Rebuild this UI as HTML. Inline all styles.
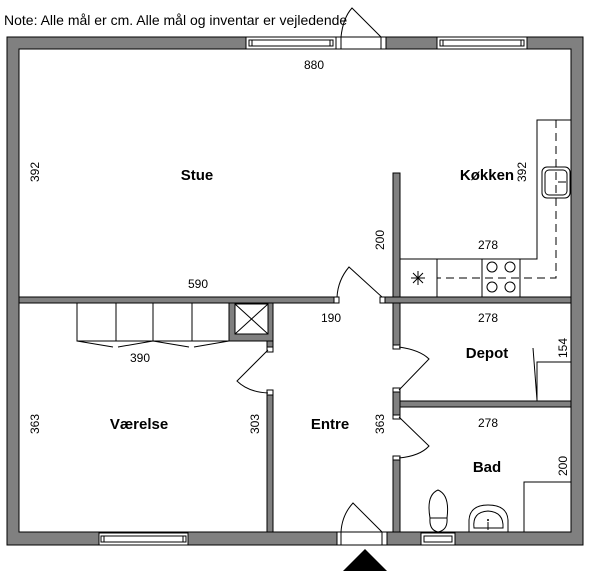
<!DOCTYPE html>
<html><head><meta charset="utf-8"><style>
html,body{margin:0;padding:0;background:#fff}
svg{display:block}
text{font-family:"Liberation Sans",sans-serif;fill:#000}
.b{font-weight:bold;font-size:15px}
.n{font-size:12px}
</style></head><body>
<svg width="600" height="582" viewBox="0 0 600 582" xmlns="http://www.w3.org/2000/svg">
<text x="4" y="25" style="font-size:14px">Note: Alle mål er cm. Alle mål og inventar er vejledende</text>
<g fill="#808080" stroke="#000" stroke-width="1">
<!-- outer walls -->
<path d="M7,37 H583 V545 H7 Z M19,49 V532 H571 V49 Z" fill-rule="evenodd"/>
<!-- horizontal wall stue -->
<rect x="19" y="297" width="318" height="6"/>
<rect x="382" y="297" width="189" height="6"/>
<!-- kitchen partition -->
<rect x="393" y="173" width="7" height="124"/>
<!-- right vertical wall -->
<rect x="393" y="303" width="7" height="44"/>
<rect x="393" y="390" width="7" height="27"/>
<rect x="393" y="458" width="7" height="74"/>
<!-- depot/bad wall -->
<rect x="400" y="401" width="171" height="6"/>
<!-- værelse wall -->
<rect x="229" y="303" width="44" height="38"/>
<rect x="267" y="341" width="6" height="9"/>
<rect x="267" y="393" width="6" height="139"/>
</g>
<g fill="#fff" stroke="#000" stroke-width="1">
<rect x="235" y="304" width="33" height="30"/>
<!-- top windows -->
<rect x="246" y="37" width="90" height="12" stroke="none"/>
<rect x="246" y="37" width="90" height="12"/>
<rect x="249" y="40" width="84" height="6"/>
<line x1="252" y1="40" x2="252" y2="46"/><line x1="330" y1="40" x2="330" y2="46"/>
<rect x="437" y="37" width="90" height="12"/>
<rect x="440" y="40" width="84" height="6"/>
<line x1="443" y1="40" x2="443" y2="46"/><line x1="521" y1="40" x2="521" y2="46"/>
<!-- top door -->
<rect x="336" y="37" width="50" height="12"/>
<line x1="341" y1="37" x2="341" y2="49"/><line x1="381" y1="37" x2="381" y2="49"/>
<!-- bottom windows -->
<rect x="99" y="533" width="89" height="12"/>
<rect x="101" y="536" width="85" height="6"/>
<line x1="104" y1="536" x2="104" y2="542"/><line x1="183" y1="536" x2="183" y2="542"/>
<rect x="421" y="533" width="34" height="12"/>
<rect x="424" y="536" width="28" height="6"/>
<!-- bottom door -->
<rect x="337" y="532" width="50" height="13"/>
<line x1="341" y1="532" x2="341" y2="545"/><line x1="382" y1="532" x2="382" y2="545"/>
<!-- jamb stubs -->
<rect x="334" y="297" width="5" height="6"/><rect x="380" y="297" width="5" height="6"/>
<rect x="267" y="347" width="6" height="5"/><rect x="267" y="390" width="6" height="5"/>
<rect x="393" y="345" width="7" height="4"/><rect x="393" y="388" width="7" height="4"/>
<rect x="393" y="415" width="7" height="4"/><rect x="393" y="456" width="7" height="4"/>
</g>
<g fill="none" stroke="#000" stroke-width="1">
<!-- top door swing -->
<path d="M341,37 Q343,18 352,8 L381,37"/>
<!-- bottom door swing -->
<path d="M341,532 Q342,515 353,503 L382,532"/>
<!-- kitchen door -->
<path d="M337,297 Q338,280 349,267 L382,297"/>
<!-- værelse door -->
<path d="M268,350 L237,381 Q248,392 268,393"/>
<!-- depot door -->
<path d="M399,347 Q420,350 429,359 L399,390"/>
<!-- bad door -->
<path d="M399,458 Q420,456 429,446 L399,417"/>
<!-- wardrobes -->
<rect x="77" y="303" width="152" height="38"/>
<line x1="116" y1="303" x2="116" y2="341"/><line x1="153" y1="303" x2="153" y2="341"/><line x1="192" y1="303" x2="192" y2="341"/>
<path d="M77,341 L113,347 M153,341 L118,347 M153,341 L189,347 M229,341 L194,347"/>
<!-- closet X -->
<path d="M235,304 L268,334 M268,304 L235,334"/>
<!-- kitchen counters -->
<path d="M400,259 H537 V120 H571"/>
<line x1="437" y1="259" x2="437" y2="297"/>
<rect x="482" y="259" width="38" height="38"/>
<circle cx="492" cy="267" r="5"/><circle cx="510" cy="267" r="5"/>
<circle cx="492" cy="287" r="5"/><circle cx="510" cy="287" r="5"/>
<path d="M556,120 V278 H437" stroke-dasharray="8,5"/>
<path d="M411,278 H425 M418,271 V285 M413,273 L423,283 M423,273 L413,283"/>
<!-- sink -->
<rect x="542" y="167" width="28" height="31" rx="5"/>
<rect x="545" y="170" width="22" height="25" rx="4"/>
<path d="M558,182 H566"/>
<!-- depot closet -->
<path d="M537,401 V362 H571"/>
<line x1="533" y1="348" x2="537" y2="400"/>
<!-- shower -->
<path d="M524,532 V482 H571"/>
<!-- toilet -->
<path d="M430,518 Q426,495 438,490 Q450,495 447,518 Q448,530 438,532 Q429,530 430,518 Z"/>
<line x1="430" y1="518" x2="447" y2="518"/>
<!-- basin -->
<path d="M469,532 V520 Q470,505 488,505 Q507,505 508,520 V532"/>
<path d="M474,528 Q472,512 488,511 Q504,512 503,528 Z"/>
<line x1="488" y1="522" x2="488" y2="530"/>
</g>
<circle cx="488" cy="520" r="1" fill="#000"/>
<polygon points="343,571 387,571 365,549" fill="#000"/>
<!-- labels -->
<text class="b" x="197" y="180" text-anchor="middle">Stue</text>
<text class="b" x="487" y="180" text-anchor="middle">Køkken</text>
<text class="b" x="139" y="429" text-anchor="middle">Værelse</text>
<text class="b" x="330" y="429" text-anchor="middle">Entre</text>
<text class="b" x="487" y="358" text-anchor="middle">Depot</text>
<text class="b" x="487" y="472" text-anchor="middle">Bad</text>
<g class="n" text-anchor="middle">
<text x="314" y="69">880</text>
<text x="198" y="288">590</text>
<text x="331" y="322">190</text>
<text x="488" y="249">278</text>
<text x="488" y="322">278</text>
<text x="140" y="362">390</text>
<text x="488" y="427">278</text>
<text transform="translate(39,172) rotate(-90)">392</text>
<text transform="translate(526,172) rotate(-90)">392</text>
<text transform="translate(384,240) rotate(-90)">200</text>
<text transform="translate(567,348) rotate(-90)">154</text>
<text transform="translate(39,424) rotate(-90)">363</text>
<text transform="translate(259,424) rotate(-90)">303</text>
<text transform="translate(384,424) rotate(-90)">363</text>
<text transform="translate(567,466) rotate(-90)">200</text>
</g>
</svg>
</body></html>
